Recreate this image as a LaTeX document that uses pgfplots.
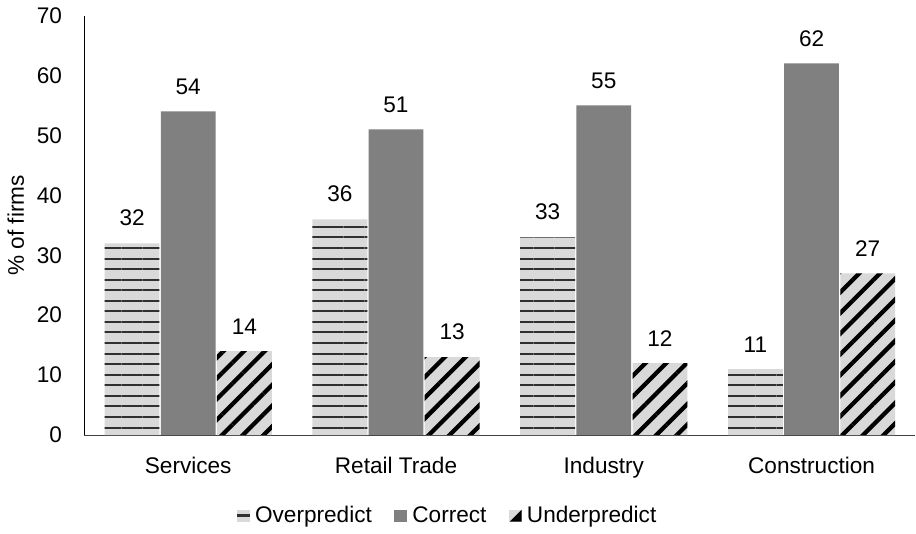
\documentclass[border=0pt]{standalone}
\usepackage{pgfplots}
\pgfplotsset{compat=1.18}
\usepackage{fontspec}
\setmainfont{Liberation Sans}
\usetikzlibrary{patterns.meta}

\definecolor{barlight}{HTML}{D9D9D9}
\definecolor{bargray}{HTML}{808080}
\definecolor{stripe}{HTML}{303030}

\pgfplotstableread{
idx over correct under
0   32   54      14
1   36   51      13
2   33   55      12
3   11   62      27
}\firms

\newcommand{\chartfont}{\fontsize{17}{20}\selectfont}
% legend swatches drawn with basic-layer commands, so the bar pattern does not reach them
\newcommand{\swatch}[1]{%
  \pgfsetfillcolor{#1}%
  \pgfpathrectangle{\pgfpoint{0pt}{-4.5pt}}{\pgfpoint{9.5pt}{9pt}}%
  \pgfusepath{fill}}

\begin{document}
\chartfont
\begin{tikzpicture}
\begin{axis}[
  scale only axis,
  width=625.5pt, height=315.75pt,
  ybar=1pt, bar width=41.25pt,
  ymin=0, ymax=70, ytick={0,10,...,70},
  xmin=-0.5, xmax=3.5,
  xtick={0,1,2,3},
  xticklabels={Services, Retail Trade, Industry, Construction},
  axis x line*=bottom, axis y line*=left,
  major tick length=0pt,
  x axis line style={draw=black!75, line width=0.8pt},
  y axis line style={draw=black, line width=0.6pt},
  tick label style={font=\chartfont},
  /pgf/number format/assume math mode=true,
  xticklabel style={yshift=-11pt},
  yticklabel style={xshift=-11pt},
  ylabel={\% of firms},
  ylabel style={font=\chartfont, yshift=-2pt},
  nodes near coords,
  every node near coord/.append style={font=\chartfont, yshift=7pt},
  legend style={at={(0.5,-0.192)}, xshift=-38pt, anchor=center, draw=none, fill=none,
    legend columns=-1, font=\chartfont,
    nodes={text height=1.6ex, text depth=0.45ex, inner xsep=4pt},
    /tikz/every even column/.append style={column sep=13pt}},
]
\addplot[draw=none, fill=barlight,
  postaction={pattern={Lines[angle=0, distance=7.95pt, line width=1.5pt]}, pattern color=stripe},
  legend image code/.code={%
    \swatch{barlight}%
    \pgfsetfillcolor{stripe}%
    \pgfpathrectangle{\pgfpoint{0pt}{-0.9pt}}{\pgfpoint{9.5pt}{1.8pt}}%
    \pgfusepath{fill}}]
  table[x=idx, y=over] {\firms};
\addplot[draw=none, fill=bargray,
  legend image code/.code={\swatch{bargray}}]
  table[x=idx, y=correct] {\firms};
\addplot[draw=none, fill=barlight,
  postaction={pattern={Lines[angle=45, distance=11pt, line width=3.2pt]}, pattern color=black},
  legend image code/.code={%
    \swatch{barlight}%
    \pgfsetfillcolor{black}%
    \pgfpathmoveto{\pgfpoint{9.5pt}{4.5pt}}%
    \pgfpathlineto{\pgfpoint{9.5pt}{-4.5pt}}%
    \pgfpathlineto{\pgfpoint{0.5pt}{-4.5pt}}%
    \pgfpathclose
    \pgfusepath{fill}}]
  table[x=idx, y=under] {\firms};
\legend{Overpredict, Correct, Underpredict}
\end{axis}
\end{tikzpicture}
\end{document}
